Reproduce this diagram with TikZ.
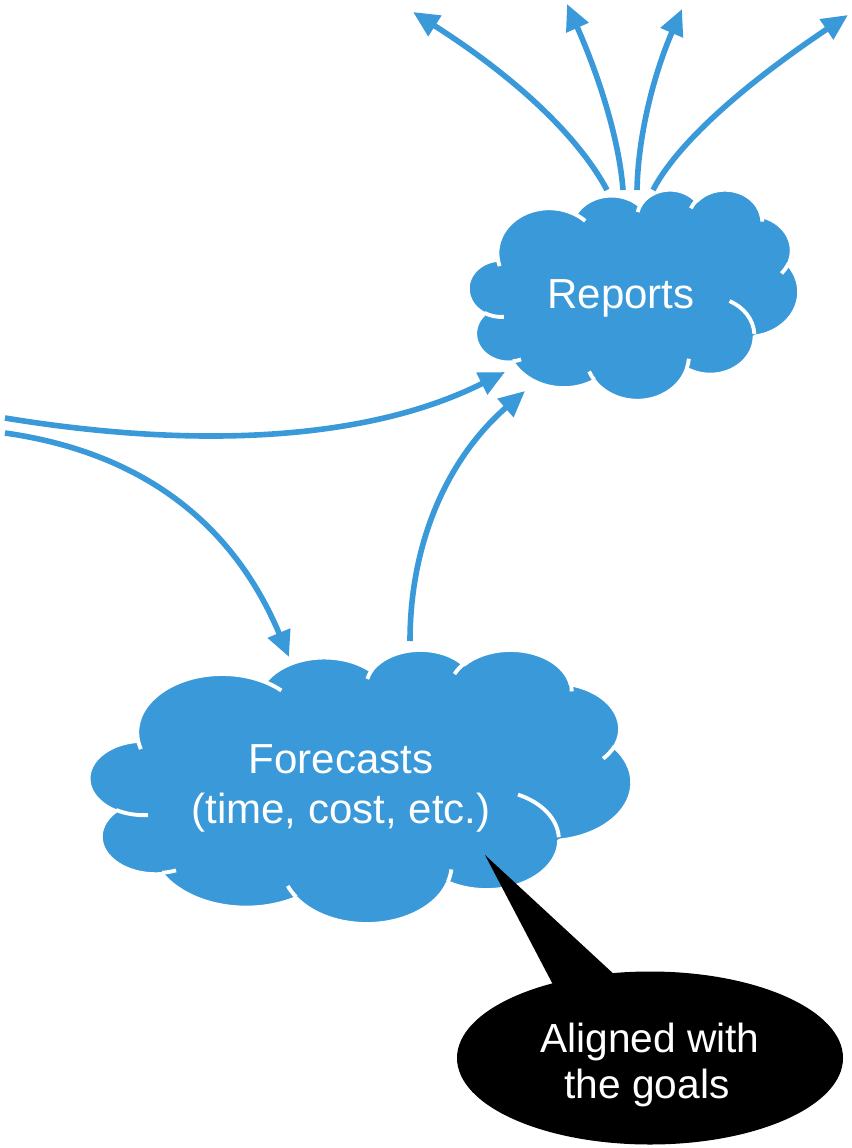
\documentclass[tikz,border=0pt]{standalone}
\usepackage{fontspec}
\setmainfont{Liberation Sans}
\usetikzlibrary{arrows.meta,shapes.geometric}
\definecolor{cblue}{HTML}{3A99D9}

% convert a DrawingML arcTo (visual angles, degrees) to parametric angles
\newcommand\calcarc[5]{%
  \pgfmathsetmacro\tmpa{atan2((#2)*sin(#4),(#3)*cos(#4))}%
  \pgfmathsetmacro\tmpb{atan2((#2)*sin((#4)+(#5)),(#3)*cos((#4)+(#5)))}%
  \pgfmathsetmacro\tmpd{\tmpb-\tmpa}%
  \pgfmathsetmacro\tmpd{\tmpd<0 ? \tmpd+360 : \tmpd}%
  \expandafter\xdef\csname CS#1\endcsname{\tmpa}%
  \expandafter\xdef\csname CD#1\endcsname{\tmpd}%
}
% outline arcs
\calcarc{A}{6.753}{9.190}{-190.4875}{123.7805}
\calcarc{B}{5.333}{7.267}{-144.1024}{89.9452}
\calcarc{C}{4.365}{5.945}{-145.8079}{99.7230}
\calcarc{D}{4.857}{6.595}{-130.9861}{117.2417}
\calcarc{E}{5.333}{7.273}{-78.7089}{109.0269}
\calcarc{F}{6.775}{9.220}{-46.2673}{130.2690}
\calcarc{G}{5.785}{7.867}{0.6250}{114.0333}
\calcarc{H}{6.752}{9.215}{22.4516}{115.1726}
\calcarc{I}{7.720}{10.543}{66.2426}{75.7110}
\calcarc{J}{4.360}{5.918}{-274.9421}{146.7356}
\calcarc{K}{4.345}{5.945}{-246.8285}{152.5189}
% inner arcs
\calcarc{a}{4.345}{5.945}{86.7420}{26.4295}
\calcarc{b}{4.360}{5.918}{73.6105}{11.4475}
\calcarc{c}{6.752}{9.215}{137.6242}{14.0811}
\calcarc{d}{6.752}{9.215}{6.4533}{15.9984}
\calcarc{e}{5.785}{7.867}{-70.2924}{66.7295}
\calcarc{f}{5.333}{7.273}{30.3180}{19.7675}
\calcarc{g}{4.857}{6.595}{-13.7443}{14.8642}
\calcarc{h}{4.857}{6.595}{-149.1815}{18.1959}
\calcarc{i}{4.365}{5.945}{-163.4943}{17.6995}
\calcarc{j}{6.753}{9.190}{-66.7070}{12.3194}
\calcarc{k}{6.753}{9.190}{157.6544}{11.8582}

\newcommand\officecloud[4]{%
\begin{scope}[shift={(#1,#2)}, x=1cm, y=1cm, xscale={#3*0.75/1229.16}, yscale={-#4*0.75/1229.16}]
  \filldraw[cloudbody]
    (3.9,14.37)
    arc[start angle=\CSA, delta angle=\CDA, x radius=6.753, y radius=9.190]
    arc[start angle=\CSB, delta angle=\CDB, x radius=5.333, y radius=7.267]
    arc[start angle=\CSC, delta angle=\CDC, x radius=4.365, y radius=5.945]
    arc[start angle=\CSD, delta angle=\CDD, x radius=4.857, y radius=6.595]
    arc[start angle=\CSE, delta angle=\CDE, x radius=5.333, y radius=7.273]
    arc[start angle=\CSF, delta angle=\CDF, x radius=6.775, y radius=9.220]
    arc[start angle=\CSG, delta angle=\CDG, x radius=5.785, y radius=7.867]
    arc[start angle=\CSH, delta angle=\CDH, x radius=6.752, y radius=9.215]
    arc[start angle=\CSI, delta angle=\CDI, x radius=7.720, y radius=10.543]
    arc[start angle=\CSJ, delta angle=\CDJ, x radius=4.360, y radius=5.918]
    arc[start angle=\CSK, delta angle=\CDK, x radius=4.345, y radius=5.945]
    -- cycle;
  \draw[cloudline]
    (4.693,26.177) arc[start angle=\CSa, delta angle=\CDa, x radius=4.345, y radius=5.945]
    (6.928,34.899) arc[start angle=\CSb, delta angle=\CDb, x radius=4.360, y radius=5.918]
    (16.478,39.090) arc[start angle=\CSc, delta angle=\CDc, x radius=6.752, y radius=9.215]
    (28.827,34.751) arc[start angle=\CSd, delta angle=\CDd, x radius=6.752, y radius=9.215]
    (34.129,22.954) arc[start angle=\CSe, delta angle=\CDe, x radius=5.785, y radius=7.867]
    (41.798,15.354) arc[start angle=\CSf, delta angle=\CDf, x radius=5.333, y radius=7.273]
    (38.324,5.426) arc[start angle=\CSg, delta angle=\CDg, x radius=4.857, y radius=6.595]
    (29.078,3.952) arc[start angle=\CSh, delta angle=\CDh, x radius=4.857, y radius=6.595]
    (22.141,4.720) arc[start angle=\CSi, delta angle=\CDi, x radius=4.365, y radius=5.945]
    (14.000,5.192) arc[start angle=\CSj, delta angle=\CDj, x radius=6.753, y radius=9.190]
    (4.127,15.789) arc[start angle=\CSk, delta angle=\CDk, x radius=6.753, y radius=9.190];
\end{scope}}

\tikzset{
  cloudbody/.style={fill=cblue, draw=white, line width=2.9pt, line join=round},
  cloudline/.style={draw=white, line width=2.9pt},
  flow/.style={draw=cblue, line width=4.2pt, -{Triangle[length=19.5pt, width=17.5pt]}},
  wtxt/.style={text=white, inner sep=0pt, font=\fontsize{31.5}{37}\selectfont},
  ctxt/.style={text=white, inner sep=0pt, font=\fontsize{30.5}{35}\selectfont},
}

\begin{document}
\begin{tikzpicture}[x=0.75pt, y=-0.75pt]
\useasboundingbox (0,0) rectangle (852,1148);

% clouds
\officecloud{468}{189}{331}{211}
\officecloud{89}{649}{543}{274}

% text of clouds
\node[wtxt, anchor=base] (reports) at (621,308) {Reports};
\node[wtxt, anchor=base] (fc1) at (341,773) {Forecasts};
\node[wtxt, anchor=base] (fc2) at (341,823) {(time, cost, etc.)};

% end points of connectors
\coordinate (r1s) at (607,190); \coordinate (r1e) at (413,12);
\coordinate (r2s) at (623,190); \coordinate (r2e) at (567,4);
\coordinate (r3s) at (637,190); \coordinate (r3e) at (682,9);
\coordinate (r4s) at (653,190); \coordinate (r4e) at (848,15);
\coordinate (l1s) at (5,418);   \coordinate (l1e) at (505,372);
\coordinate (l2s) at (5,433);   \coordinate (l2e) at (289,657);
\coordinate (ups) at (410,641); \coordinate (upe) at (525,391);

\draw[flow] (r1s) .. controls (577,134) and (512,75) .. (r1e);
\draw[flow] (r2s) .. controls (619.5,143) and (601,81) .. (r2e);
\draw[flow] (r3s) .. controls (638,137) and (653,76) .. (r3e);
\draw[flow] (r4s) .. controls (677,144) and (742,86) .. (r4e);
\draw[flow] (l1s) .. controls (200,450) and (370,440) .. (l1e);
\draw[flow] (l2s) .. controls (160,455) and (240,540) .. (l2e);
\draw[flow] (ups) .. controls (410,542) and (448,458) .. (upe);

% callout
\node[ellipse, fill=black, minimum width=289.5pt, minimum height=129.75pt, inner sep=0pt] (callout) at (650,1058) {};
\coordinate (tailtip) at (485,855);
\coordinate (taill) at (560,998);
\coordinate (tailr) at (630,989);
\fill[black] (tailtip) -- (taill) -- (tailr) -- cycle;
\node[ctxt, anchor=base] (al1) at (650,1052) {Aligned with};
\node[ctxt, anchor=base] (al2) at (647,1098) {the goals};
\end{tikzpicture}
\end{document}
